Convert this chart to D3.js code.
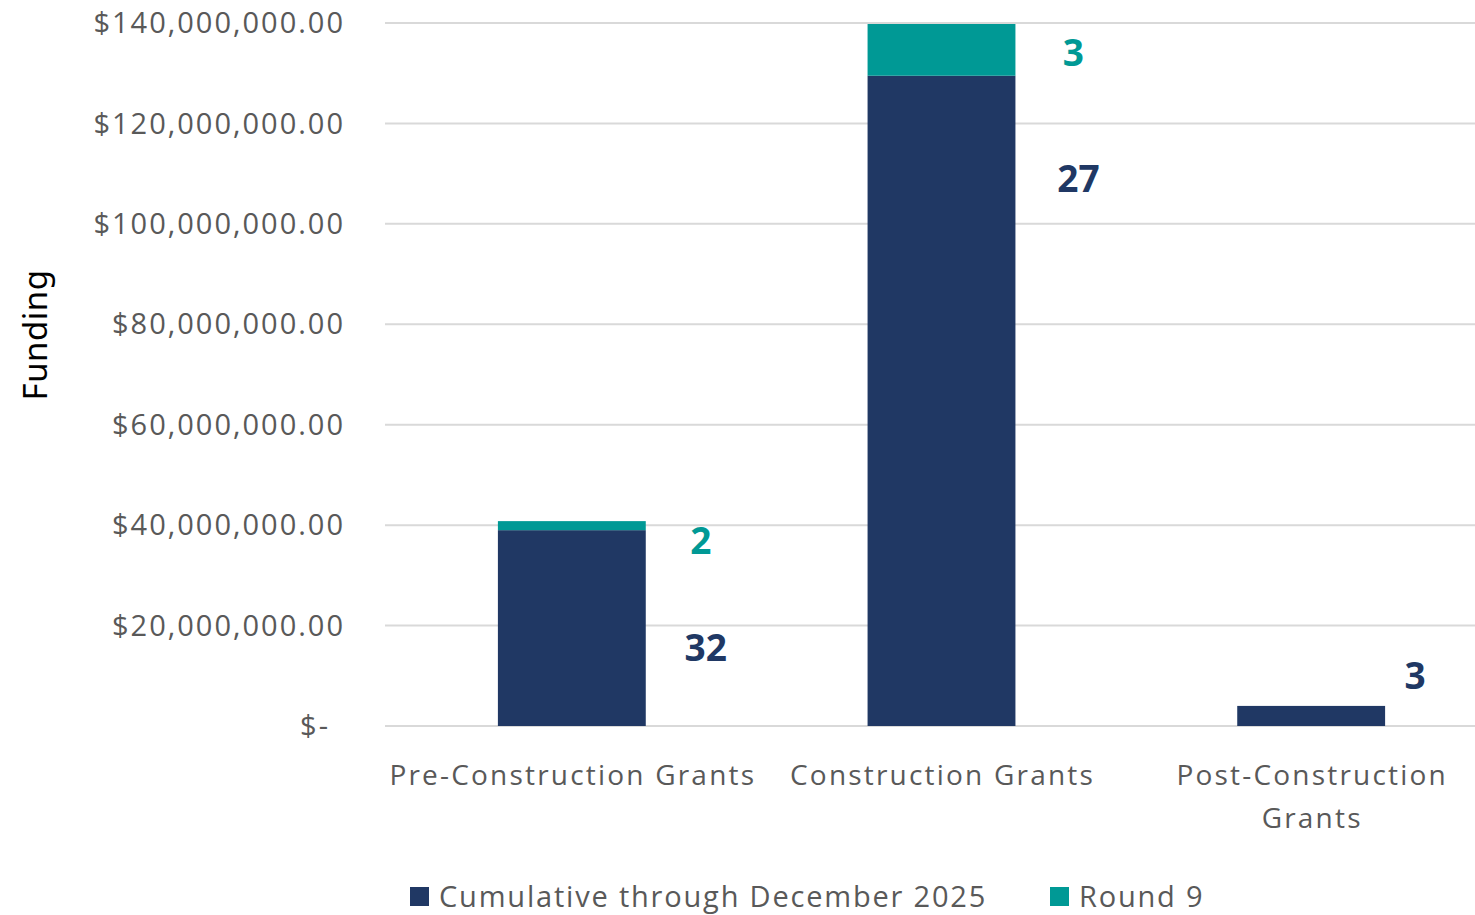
<html>
<style>
    body { margin: 0px; background: #fff; }
    text { font-family: "Open Sans", sans-serif; }
</style>
<body>
<svg id="chart"></svg>
</body>
<script src="https://d3js.org/d3.v7.min.js"></script>
<script>
var categories = ["Pre-Construction Grants", "Construction Grants", "Post-Construction Grants"];
var cumulative = [39000000, 129500000, 4000000];
var round9 = [1800000, 10300000, 0];
var cumulativeCounts = [32, 27, 3];
var round9Counts = [2, 3, null];
// where the count labels sit, in funding units
var cumulativeLabelAt = [15500000, 109000000, 10000000];
var round9LabelAt = [36900000, 134000000, null];
var yTicks = [0, 20000000, 40000000, 60000000, 80000000, 100000000, 120000000, 140000000];
var seriesNames = ["Cumulative through December 2025", "Round 9"];

var width = 1475, height = 915;
var navy = "#203864", teal = "#009995", grey = "#595959";

var svg = d3.select("#chart").attr("width", width).attr("height", height);

var x = d3.scaleBand().domain(categories).range([387, 1496]).paddingInner(0.6).paddingOuter(0.3);
var y = d3.scaleLinear().domain([0, 140000000]).range([726, 23]);

// gridlines
svg.append("g").selectAll("line")
    .data(yTicks)
    .enter().append("line")
    .attr("x1", 385).attr("x2", width)
    .attr("y1", function(d) { return y(d); })
    .attr("y2", function(d) { return y(d); })
    .attr("stroke", "#d9d9d9")
    .attr("stroke-width", 2);

// y tick labels
var fmt = d3.format(",.2f");
svg.append("g").selectAll("text")
    .data(yTicks)
    .enter().append("text")
    .attr("x", function(d) { return d == 0 ? 330 : 345; })
    .attr("y", function(d) { return y(d); })
    .attr("dy", "0.35em")
    .attr("text-anchor", "end")
    .attr("fill", grey)
    .style("font-size", "29px")
    .style("letter-spacing", "2px")
    .text(function(d) { return d == 0 ? "$-" : "$" + fmt(d); });

svg.append("text")
    .attr("transform", "translate(47,335) rotate(-90)")
    .attr("text-anchor", "middle")
    .attr("fill", "#000")
    .style("font-size", "33px")
    .style("letter-spacing", "0.5px")
    .style("font-family", "'Noto Sans', sans-serif")
    .text("Funding");

// stacked bars
var rows = categories.map(function(c, i) {
    return {cat: c, a: cumulative[i], b: round9[i]};
});

svg.append("g").selectAll("rect")
    .data(rows)
    .enter().append("rect")
    .attr("x", function(d) { return x(d.cat); })
    .attr("width", x.bandwidth())
    .attr("y", function(d) { return y(d.a); })
    .attr("height", function(d) { return y(0) - y(d.a); })
    .attr("fill", navy);

svg.append("g").selectAll("rect")
    .data(rows.filter(function(d) { return d.b > 0; }))
    .enter().append("rect")
    .attr("x", function(d) { return x(d.cat); })
    .attr("width", x.bandwidth())
    .attr("y", function(d) { return y(d.a + d.b); })
    .attr("height", function(d) { return y(d.a) - y(d.a + d.b); })
    .attr("fill", teal);

// count labels
var labelDx = [60, 63, 30];
categories.forEach(function(c, i) {
    var bx = x(c) + x.bandwidth();
    svg.append("text")
        .attr("x", bx + labelDx[i])
        .attr("y", y(cumulativeLabelAt[i]))
        .attr("dy", "0.35em")
        .attr("text-anchor", "middle")
        .attr("fill", navy)
        .style("font-size", "37px")
        .style("font-weight", "bold")
        .text(cumulativeCounts[i]);
    if (round9Counts[i] != null) {
        svg.append("text")
            .attr("x", bx + labelDx[i] - 5)
            .attr("y", y(round9LabelAt[i]))
            .attr("dy", "0.35em")
            .attr("text-anchor", "middle")
            .attr("fill", teal)
            .style("font-size", "37px")
            .style("font-weight", "bold")
            .text(round9Counts[i]);
    }
});

// x labels
var xl = svg.append("g").selectAll("text")
    .data(categories)
    .enter().append("text")
    .attr("x", function(d) { return x(d) + x.bandwidth() / 2 + 1; })
    .attr("y", 775)
    .attr("text-anchor", "middle")
    .attr("fill", grey)
    .style("font-size", "28px")
    .style("letter-spacing", "2.2px");

xl.each(function(d) {
    var t = d3.select(this);
    if (d == "Post-Construction Grants") {
        t.append("tspan").attr("x", t.attr("x")).attr("dy", "0.35em").text("Post-Construction");
        t.append("tspan").attr("x", t.attr("x")).attr("dy", "1.55em").text("Grants");
    } else {
        t.attr("dy", "0.35em").text(d);
    }
});

// legend
var legendX = [410, 1050];
var legendColors = [navy, teal];
var lg = svg.append("g").selectAll("g")
    .data(seriesNames)
    .enter().append("g")
    .attr("transform", function(d, i) { return "translate(" + legendX[i] + ",887)"; });
lg.append("rect").attr("width", 19).attr("height", 19)
    .attr("fill", function(d, i) { return legendColors[i]; });
lg.append("text")
    .attr("x", 29).attr("y", 10).attr("dy", "0.35em")
    .attr("fill", grey)
    .style("font-size", "29px")
    .style("letter-spacing", "1.8px")
    .text(function(d) { return d; });
</script>
</html>
